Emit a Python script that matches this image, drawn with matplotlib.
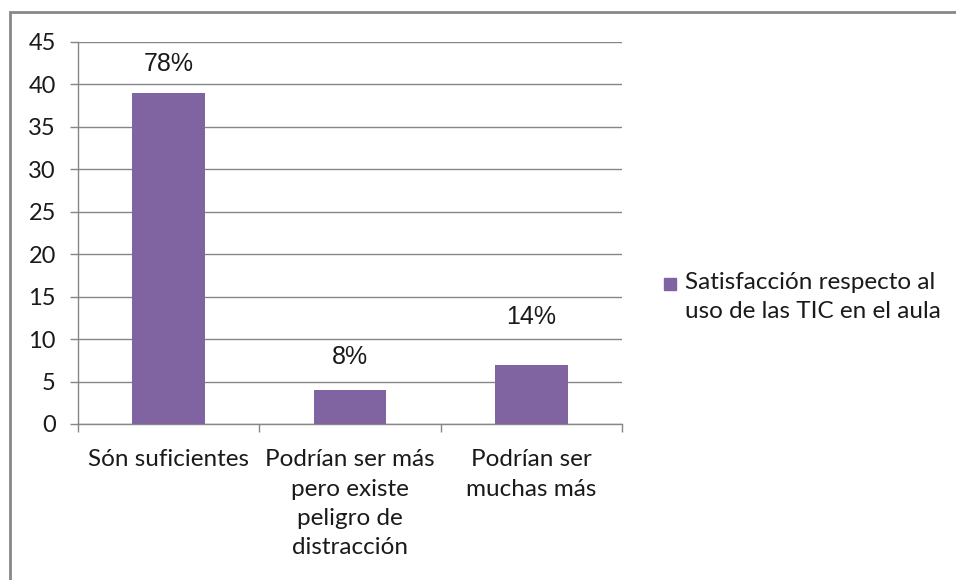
import numpy as np
import matplotlib.pyplot as plt
from matplotlib.patches import Rectangle

categories = ["Són suficientes",
              "Podrían ser más\npero existe\npeligro de\ndistracción",
              "Podrían ser\nmuchas más"]
values = [39, 4, 7]
pct_labels = ["78%", "8%", "14%"]
series_name = "Satisfacción respecto al\nuso de las TIC en el aula"

bar_color = "#8064A2"
grid_color = "#868686"
text_color = "#1a1a1a"
label_font = "Lato"

fig = plt.figure(figsize=(9.56, 5.8), dpi=100)
ax = fig.add_axes([78 / 956, 1 - 424 / 580, 544 / 956, 382 / 580])

x = np.arange(len(categories))
ax.bar(x, values, width=0.4, color=bar_color, zorder=3)

# data labels (offsets in points, as placed in the original)
offsets = [21, 24, 34]
for xi, v, txt, off in zip(x, values, pct_labels, offsets):
    ax.annotate(txt, (xi, v), xytext=(0, off), textcoords="offset points",
                ha="center", va="center", fontsize=18, family="Liberation Sans",
                color=text_color)

ax.set_xlim(-0.5, len(categories) - 0.5)
ax.set_ylim(0, 45)
ax.set_yticks(np.arange(0, 46, 5))
ax.yaxis.grid(True, color=grid_color, linewidth=1, zorder=0)

# category boundary ticks, labels centred on minor ticks
ax.set_xticks(np.arange(-0.5, len(categories), 1.0))
ax.set_xticklabels([])
ax.set_xticks(x, minor=True)
ax.set_xticklabels(categories, minor=True, fontsize=17.5, family=label_font,
                   linespacing=1.5, va="top", color=text_color)
ax.tick_params(axis="x", which="minor", length=0, pad=18)
ax.tick_params(axis="x", which="major", length=6, width=1, color=grid_color)
ax.tick_params(axis="y", length=6, width=1, color=grid_color, pad=10)
for lab in ax.get_yticklabels():
    lab.set_family(label_font)
    lab.set_fontsize(17)
    lab.set_color(text_color)

for s in ["top", "right"]:
    ax.spines[s].set_visible(False)
for s in ["left", "bottom"]:
    ax.spines[s].set_color(grid_color)
    ax.spines[s].set_linewidth(1)

# legend: square key beside the first line of the series name
W, H = 956, 580
fig.patches.append(Rectangle((664 / W, 1 - 290 / H), 12 / W, 12 / H,
                             transform=fig.transFigure, color=bar_color))
fig.text(685 / W, 1 - 272 / H, series_name, ha="left", va="top",
         fontsize=17.5, family=label_font, linespacing=1.5, color=text_color)

# chart area border (only left and top edges visible in the crop)
fig.patches.append(Rectangle((10 / W, -0.1), 1.2, 1 - 12 / H + 0.1,
                             transform=fig.transFigure, fill=False,
                             edgecolor="#888888", linewidth=2))

fig.savefig("out.png", dpi=100)
